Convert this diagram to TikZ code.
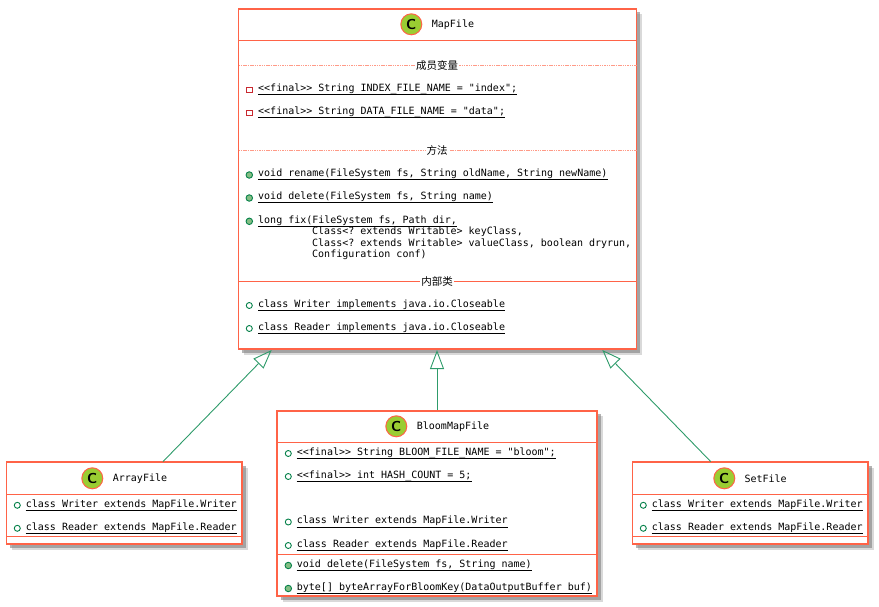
\documentclass[tikz,border=0pt]{standalone}
\usepackage{fontspec}
\setmonofont{DejaVu Sans Mono}
\newfontfamily\cjkfont{Noto Sans CJK SC}
\usetikzlibrary{%
  arrows.meta,%
  shadows%
}
\definecolor{boxborder}{HTML}{FF6347}
\definecolor{linkgreen}{HTML}{2E9B6A}
\definecolor{spotgreen}{HTML}{9ACD32}
\definecolor{privred}{HTML}{C82930}
\definecolor{pubgreen}{HTML}{84BE84}
\definecolor{pubedge}{HTML}{038048}
\tikzset{
  classbox/.style={draw=boxborder,line width=1.7pt,fill=white,anchor=north west,
    inner sep=0,outer sep=0,
    drop shadow={shadow xshift=5.5pt,shadow yshift=-5.5pt,fill=gray,opacity=.3},
    drop shadow={shadow xshift=3.5pt,shadow yshift=-3.5pt,fill=gray,opacity=.6}},
  boxline/.style={draw=boxborder,line width=1.5pt},
  spot/.style={circle,draw=boxborder,line width=1pt,fill=spotgreen,minimum size=21pt,
    inner sep=0,font=\sffamily\bfseries\Large},
  classname/.style={anchor=west,inner sep=0,font=\ttfamily},
  sectionname/.style={fill=white,inner sep=1pt,font=\cjkfont\fontsize{10.5}{11}\selectfont},
  sectionrule/.style={draw=boxborder!65,dash pattern=on 1.5pt off .8pt,line width=.7pt},
  member/.style={anchor=south west,inner sep=0,text height=8pt,text depth=3pt,font=\ttfamily},
  memberrule/.style={draw=black,line width=1pt},
  privfield/.style={rectangle,draw=privred,line width=.9pt,minimum size=5.5pt,inner sep=0},
  pubfield/.style={circle,draw=pubedge,line width=.9pt,fill=white,minimum size=6pt,inner sep=0},
  pubmethod/.style={circle,draw=pubedge,line width=.9pt,fill=pubgreen,minimum size=6.5pt,inner sep=0},
  inherits/.style={draw=linkgreen,line width=.9pt,
    -{Triangle[open,length=19pt,width=14pt,line width=.9pt]}}
}
% member line: style of the icon, name, icon x, text x, underline y, text
\newcommand\memberline[6]{%
  \node[#1] (#2icon) at (#3,-#5+5) {};
  \node[member] (#2) at (#4,-#5) {#6};
  \draw[memberrule] (#2.south west) -- (#2.south east);
}

\begin{document}
\begin{tikzpicture}[x=1pt,y=1pt]

    \useasboundingbox (0,0) rectangle (879,-607);

    %% class boxes
    \node[classbox,minimum width=398pt,minimum height=340pt] (mapfile) at (238.5,-9) {};
    \node[classbox,minimum width=235.8pt,minimum height=81.7pt] (arrayfile) at (6.5,-462.3) {};
    \node[classbox,minimum width=320pt,minimum height=185.6pt] (bloomfile) at (277.3,-410.7) {};
    \node[classbox,minimum width=235.8pt,minimum height=81.7pt] (setfile) at (632.5,-462.3) {};

    %%%%%%%%%%%%%%%%
    %% MapFile
    \node[spot] (mapspot) at (411.3,-24.3) {C};
    \node[classname] (mapname) at (431.7,-24.3) {MapFile};
    \coordinate (maptitle) at (437,-40.5);
    \draw[boxline] (maptitle -| mapfile.west) -- (maptitle -| mapfile.east);

    % fields
    \coordinate (mapfields) at (437,-65.5);
    \draw[sectionrule] (mapfields -| mapfile.west) -- (mapfields -| mapfile.east);
    \node[sectionname] (fieldsname) at (mapfields) {成员变量};
    \memberline{privfield}{indexname}{249.3}{258}{95}{<{}<final>{}> String INDEX\_FILE\_NAME = "index";}
    \memberline{privfield}{dataname}{249.3}{258}{118}{<{}<final>{}> String DATA\_FILE\_NAME = "data";}

    % methods
    \coordinate (mapmethods) at (437,-150);
    \draw[sectionrule] (mapmethods -| mapfile.west) -- (mapmethods -| mapfile.east);
    \node[sectionname] (methodsname) at (mapmethods) {方法};
    \memberline{pubmethod}{rename}{249.3}{258}{180}{void rename(FileSystem fs, String oldName, String newName)}
    \memberline{pubmethod}{delete}{249.3}{258}{203}{void delete(FileSystem fs, String name)}
    \memberline{pubmethod}{fix}{249.3}{258}{226.3}{long fix(FileSystem fs, Path dir,}
    \node[member] (fixkey) at (312,-238) {Class<? extends Writable> keyClass,};
    \node[member] (fixvalue) at (312,-249.5) {Class<? extends Writable> valueClass, boolean dryrun,};
    \node[member] (fixconf) at (312,-261) {Configuration conf)};

    % inner classes
    \coordinate (mapinner) at (437,-281.3);
    \draw[boxborder,line width=.8pt] (mapinner -| mapfile.west) -- (mapinner -| mapfile.east);
    \node[sectionname] (innername) at (mapinner) {内部类};
    \memberline{pubfield}{mapwriter}{249.3}{258}{310.5}{class Writer implements java.io.Closeable}
    \memberline{pubfield}{mapreader}{249.3}{258}{333.5}{class Reader implements java.io.Closeable}

    %%%%%%%%%%%%%%%%
    %% ArrayFile
    \node[spot] (arrayspot) at (92.3,-478.3) {C};
    \node[classname] (arrayname) at (112.7,-478.3) {ArrayFile};
    \coordinate (arraytitle) at (124,-494.3);
    \coordinate (arrayend) at (124,-536.3);
    \draw[boxline] (arraytitle -| arrayfile.west) -- (arraytitle -| arrayfile.east);
    \draw[boxline] (arrayend -| arrayfile.west) -- (arrayend -| arrayfile.east);
    \memberline{pubfield}{arraywriter}{17.3}{25.7}{510.3}{class Writer extends MapFile.Writer}
    \memberline{pubfield}{arrayreader}{17.3}{25.7}{533.3}{class Reader extends MapFile.Reader}

    %%%%%%%%%%%%%%%%
    %% BloomMapFile
    \node[spot] (bloomspot) at (396.3,-426.3) {C};
    \node[classname] (bloomname) at (416.7,-426.3) {BloomMapFile};
    \coordinate (bloomtitle) at (437,-442.3);
    \coordinate (bloomend) at (437,-554.3);
    \draw[boxline] (bloomtitle -| bloomfile.west) -- (bloomtitle -| bloomfile.east);
    \draw[boxline] (bloomend -| bloomfile.west) -- (bloomend -| bloomfile.east);
    \memberline{pubfield}{bloomconst}{288.3}{296.7}{458.5}{<{}<final>{}> String BLOOM\_FILE\_NAME = "bloom";}
    \memberline{pubfield}{hashcount}{288.3}{296.7}{481.5}{<{}<final>{}> int HASH\_COUNT = 5;}
    \memberline{pubfield}{bloomwriter}{288.3}{296.7}{527}{class Writer extends MapFile.Writer}
    \memberline{pubfield}{bloomreader}{288.3}{296.7}{550.5}{class Reader extends MapFile.Reader}
    \memberline{pubmethod}{bloomdelete}{288.3}{296.7}{570.5}{void delete(FileSystem fs, String name)}
    \memberline{pubmethod}{bloomkey}{288.3}{296.7}{593.5}{byte[] byteArrayForBloomKey(DataOutputBuffer buf)}

    %%%%%%%%%%%%%%%%
    %% SetFile
    \node[spot] (setspot) at (724.3,-478.3) {C};
    \node[classname] (setname) at (744.3,-478.3) {SetFile};
    \coordinate (settitle) at (750,-494.3);
    \coordinate (setend) at (750,-536.3);
    \draw[boxline] (settitle -| setfile.west) -- (settitle -| setfile.east);
    \draw[boxline] (setend -| setfile.west) -- (setend -| setfile.east);
    \memberline{pubfield}{setwriter}{643.3}{651.7}{510.3}{class Writer extends MapFile.Writer}
    \memberline{pubfield}{setreader}{643.3}{651.7}{533.3}{class Reader extends MapFile.Reader}

    %%%%%%%%%%%%%%%%
    %% inheritance
    \coordinate (maparray) at (271.7,-350);
    \coordinate (mapbloom) at (437,-350);
    \coordinate (mapset) at (602.3,-350);
    \coordinate (arraytop) at (163,-461.6);
    \coordinate (bloomtop) at (437,-410);
    \coordinate (settop) at (710.7,-461.6);
    \draw[inherits] (arraytop) -- (maparray);
    \draw[inherits] (bloomtop) -- (mapbloom);
    \draw[inherits] (settop) -- (mapset);

  \end{tikzpicture}
\end{document}
